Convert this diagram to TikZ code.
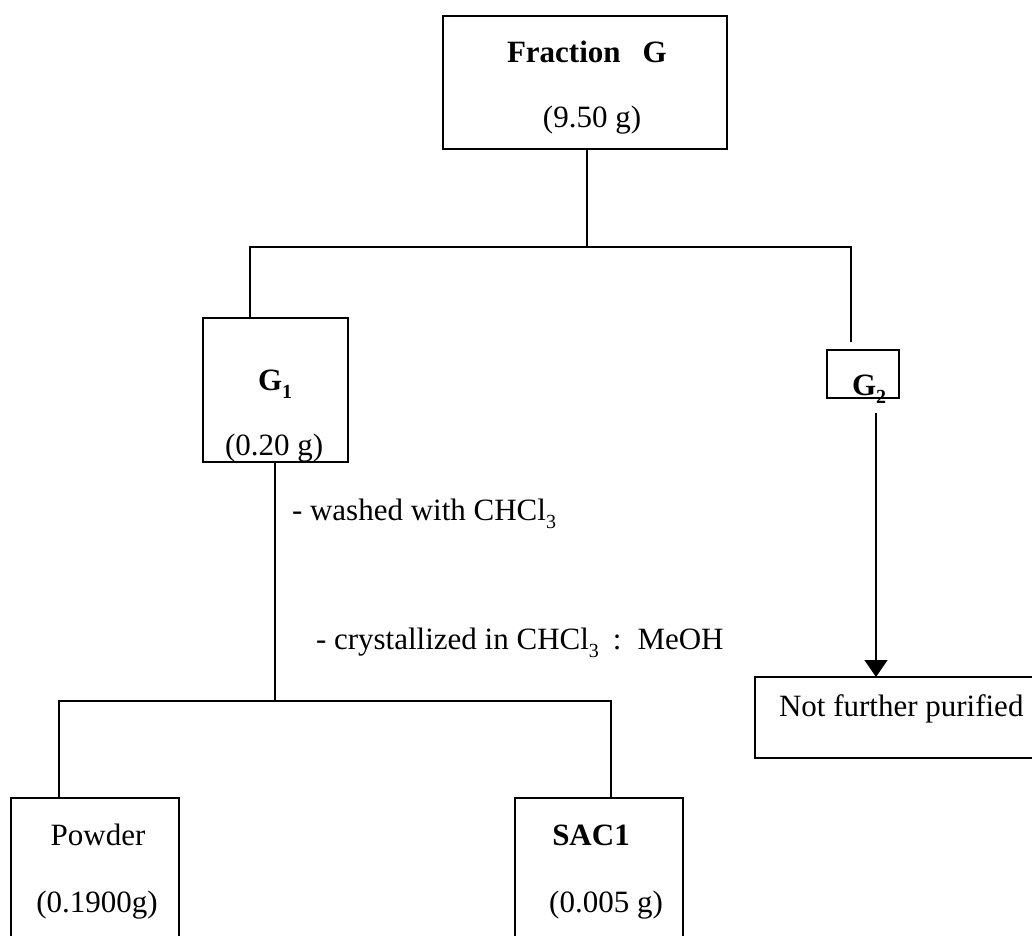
\documentclass[tikz,border=0pt]{standalone}
\usepackage{fontspec}
\setmainfont{Liberation Serif}
\usetikzlibrary{arrows.meta}
\newcommand{\mysub}[1]{\raisebox{-0.27em}{\fontsize{20}{20}\selectfont #1}}
\begin{document}
\begin{tikzpicture}[x=1pt,y=-1pt,
  box/.style={draw, line width=1.5pt, inner sep=0pt, outer sep=0pt},
  txt/.style={inner sep=0pt, outer sep=0pt, font=\fontsize{31}{37}\selectfont},
  txtb/.style={txt, font=\fontsize{31}{37}\selectfont\bfseries},
  conn/.style={line width=1.5pt},
  arr/.style={conn, -{Triangle[width=23pt,length=17pt]}}]
\useasboundingbox (0,0) rectangle (1032,935);

% boxes
\node[box, minimum width=284pt, minimum height=133pt] (frac) at (585,82.5) {};
\node[box, minimum width=145pt, minimum height=144pt] (g1) at (275.5,390) {};
\node[box, minimum width=72pt, minimum height=48pt] (g2) at (863,374) {};
\node[box, minimum width=290pt, minimum height=81pt] (nfp) at (900,717.5) {};
\node[box, minimum width=168pt, minimum height=152pt] (powder) at (95,874) {};
\node[box, minimum width=168pt, minimum height=152pt] (sac) at (599,874) {};

% texts
\node[txtb, anchor=base west] (fracname) at (507,62) {Fraction\hspace{22pt}G};
\node[txt, anchor=base] (fracmass) at (592,127) {(9.50 g)};
\node[txtb, anchor=base west] (g1name) at (258,390) {G\mysub{1}};
\node[txt, anchor=base west] (g1mass) at (225,455) {(0.20 g)};
\node[txtb, anchor=base west] (g2name) at (852,395) {G\mysub{2}};
\node[txt, anchor=base west] (nfptext) at (779,716) {Not further purified};
\node[txt, anchor=base west] (wash) at (292,520) {- washed with CHCl\mysub{3}};
\node[txt, anchor=base west] (cryst) at (316,649) {- crystallized in CHCl\mysub{3}\hspace{14pt}:\hspace{16pt}MeOH};
\node[txt, anchor=base] (powname) at (98,845) {Powder};
\node[txt, anchor=base] (powmass) at (97,912) {(0.1900g)};
\node[txtb, anchor=base] (sacname) at (591,845) {SAC1};
\node[txt, anchor=base] (sacmass) at (606,912) {(0.005 g)};

% junction coordinates
\coordinate (j1) at (587,247);
\coordinate (g1drop) at (250,247);
\coordinate (g2stub) at (851,342);
\coordinate (j2) at (275,701);
\coordinate (pdrop) at (59,701);
\coordinate (sdrop) at (611,701);
\coordinate (g2out) at (876,413);

% connectors
\draw[conn] (frac.south -| j1) -- (j1);
\draw[conn] (g1.north -| g1drop) |- (j1) -| (g2stub);
\draw[conn] (g1.south -| j2) -- (j2);
\draw[conn] (powder.north -| pdrop) -- (pdrop) -- (sdrop) -- (sac.north -| sdrop);
\draw[arr] (g2out) -- (nfp.north -| g2out);
\end{tikzpicture}
\end{document}
